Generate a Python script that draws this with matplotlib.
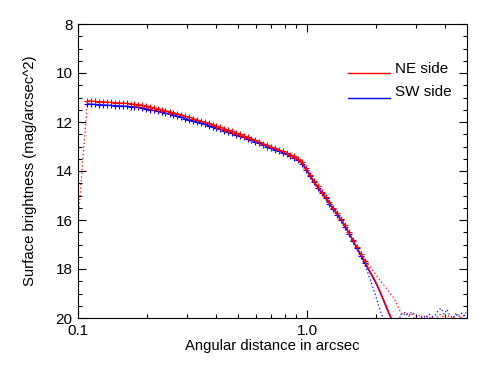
import matplotlib
matplotlib.use("Agg")
import matplotlib.pyplot as plt
from matplotlib.ticker import FixedLocator, NullFormatter

plt.rcParams['font.family'] = ['Liberation Sans', 'DejaVu Sans']

# radial profile sampling (arcsec)
radius = [0.110, 0.114, 0.119, 0.124, 0.129, 0.134, 0.139, 0.145, 0.151, 0.157,
          0.163, 0.170, 0.176, 0.183, 0.191, 0.198, 0.206, 0.215, 0.223, 0.232,
          0.241, 0.251, 0.261, 0.272, 0.283, 0.294, 0.306, 0.318, 0.331, 0.344,
          0.358, 0.372, 0.387, 0.402, 0.418, 0.435, 0.452, 0.470, 0.489, 0.509,
          0.529, 0.550, 0.572, 0.595, 0.619, 0.644, 0.670, 0.696, 0.724, 0.753,
          0.783, 0.815, 0.847, 0.881, 0.917, 0.953, 0.991, 1.031, 1.072, 1.115,
          1.160, 1.206, 1.254, 1.305, 1.357, 1.411, 1.468, 1.526, 1.587, 1.651,
          1.717, 1.786]

sb_ne = [11.13, 11.15, 11.16, 11.17, 11.18, 11.19, 11.20, 11.21, 11.22, 11.23,
         11.24, 11.26, 11.27, 11.29, 11.31, 11.34, 11.38, 11.42, 11.46, 11.50,
         11.54, 11.58, 11.62, 11.67, 11.71, 11.76, 11.81, 11.86, 11.91, 11.96,
         12.01, 12.06, 12.11, 12.16, 12.21, 12.27, 12.33, 12.38, 12.44, 12.50,
         12.56, 12.62, 12.68, 12.75, 12.81, 12.88, 12.95, 13.01, 13.08, 13.14,
         13.20, 13.27, 13.33, 13.40, 13.50, 13.65, 13.88, 14.15, 14.40, 14.62,
         14.84, 15.06, 15.28, 15.50, 15.73, 15.96, 16.22, 16.50, 16.80, 17.10,
         17.38, 17.66]

sb_sw = [11.26, 11.27, 11.28, 11.29, 11.30, 11.31, 11.32, 11.33, 11.34, 11.35,
         11.36, 11.37, 11.38, 11.40, 11.42, 11.45, 11.49, 11.53, 11.57, 11.60,
         11.64, 11.68, 11.72, 11.77, 11.81, 11.86, 11.90, 11.95, 12.00, 12.05,
         12.10, 12.15, 12.20, 12.25, 12.30, 12.35, 12.41, 12.46, 12.52, 12.58,
         12.63, 12.69, 12.75, 12.81, 12.87, 12.94, 13.00, 13.06, 13.13, 13.19,
         13.25, 13.32, 13.39, 13.46, 13.56, 13.71, 13.94, 14.21, 14.46, 14.68,
         14.90, 15.12, 15.34, 15.56, 15.79, 16.02, 16.28, 16.56, 16.86, 17.16,
         17.45, 17.74]

# model continuation beyond the plotted symbols
tail_r = [1.786, 1.86, 1.94, 2.02, 2.08, 2.15, 2.22, 2.28, 2.34, 2.40]
tail_ne = [17.66, 18.00, 18.30, 18.62, 18.88, 19.20, 19.52, 19.78, 20.02, 20.30]
tail_sw = [17.74, 18.04, 18.34, 18.66, 18.92, 19.24, 19.56, 19.82, 20.06, 20.34]

# observed profiles (dotted): inner edge and outer parts
inner_r = [0.100]
inner_ne = [16.1]

outer_r_ne = [1.72, 1.80, 1.88, 1.96, 2.04, 2.12, 2.20, 2.28, 2.36, 2.44, 2.50, 2.56]
outer_ne = [17.38, 17.64, 17.90, 18.12, 18.34, 18.55, 18.74, 18.92, 19.10, 19.32, 19.55, 19.75]
outer_r_sw = [1.72, 1.80, 1.85, 1.90, 1.95, 2.00, 2.05, 2.10, 2.15, 2.20, 2.35, 2.50, 2.56]
outer_sw = [17.45, 17.90, 18.19, 18.50, 18.81, 19.13, 19.45, 19.75, 20.00, 20.40, 21.50, 20.60, 19.85]

noise_r = [2.62, 2.70, 2.78, 2.86, 2.95, 3.04, 3.13, 3.22, 3.32, 3.42, 3.52, 3.63,
           3.74, 3.85, 3.97, 4.09, 4.21, 4.34, 4.47, 4.60, 4.74, 4.88, 5.02]
noise_ne = [19.85, 19.75, 19.90, 19.80, 20.05, 19.95, 19.85, 20.10, 19.90, 20.00, 19.95, 20.10,
            19.90, 19.85, 20.00, 19.90, 19.95, 20.05, 19.80, 19.90, 20.00, 19.85, 19.70]
noise_sw = [19.90, 19.80, 19.95, 19.75, 19.85, 19.95, 20.05, 19.90, 20.00, 19.85, 19.95, 19.90,
            19.70, 19.60, 19.85, 19.65, 19.90, 20.00, 19.85, 19.95, 19.80, 19.90, 20.00]

labels = ['NE side', 'SW side']

RED = '#ff0000'
BLUE = '#0000ff'

fig = plt.figure(figsize=(4.91, 3.68), dpi=100)
ax = fig.add_axes([78 / 491, 1 - 318 / 368, 389 / 491, 294 / 368])

dots = (0, (1, 2))
# dotted observed profiles
n_in = 69
ax.plot(inner_r + radius[:n_in] + outer_r_ne + noise_r,
        inner_ne + sb_ne[:n_in] + outer_ne + noise_ne,
        color=RED, lw=0.9, ls=dots, zorder=2)
ax.plot(radius[:n_in] + outer_r_sw + noise_r,
        sb_sw[:n_in] + outer_sw + noise_sw,
        color=BLUE, lw=0.9, ls=dots, zorder=2)

# solid profiles with plus symbols
ax.plot(radius, sb_sw, color=BLUE, lw=0.8, marker='+', ms=3.8, mew=0.8, zorder=3)
ax.plot(radius, sb_ne, color=RED, lw=0.8, marker='+', ms=3.8, mew=0.8, zorder=4)
ax.plot(tail_r, tail_sw, color=BLUE, lw=1.0, zorder=3)
ax.plot(tail_r, tail_ne, color=RED, lw=1.0, zorder=4)

ax.set_xscale('log')
ax.set_xlim(0.1, 5.0)
ax.set_ylim(20, 8)

ax.xaxis.set_major_locator(FixedLocator([0.1, 1.0]))
ax.set_xticklabels(['0.1', '1.0'])
ax.xaxis.set_minor_locator(FixedLocator([0.2, 0.3, 0.4, 0.5, 0.6, 0.7, 0.8, 0.9, 2, 3, 4]))
ax.xaxis.set_minor_formatter(NullFormatter())
ax.yaxis.set_major_locator(FixedLocator([8, 10, 12, 14, 16, 18, 20]))
ax.yaxis.set_minor_locator(FixedLocator([8 + 0.5 * i for i in range(25)]))

ax.tick_params(which='both', direction='in', top=True, right=True,
               width=0.8, labelsize=11, colors='black')
ax.tick_params(which='major', length=5.5, pad=4)
ax.tick_params(which='minor', length=2.8)
for sp in ax.spines.values():
    sp.set_linewidth(0.8)

ax.set_xlabel('Angular distance in arcsec', fontsize=10.7, labelpad=1)
ax.set_ylabel('Surface brightness (mag/arcsec^2)', fontsize=10.7, labelpad=13)

# hand-drawn legend (IDL style)
for (yl, yt), lab, col in zip([(0.834, 0.847), (0.749, 0.769)], labels, [RED, BLUE]):
    ax.plot([0.693, 0.802], [yl, yl], color=col, lw=1.0, transform=ax.transAxes)
    ax.text(0.814, yt, lab, color='black', fontsize=11, va='center', ha='left',
            transform=ax.transAxes)

fig.savefig('out.png', dpi=100)
